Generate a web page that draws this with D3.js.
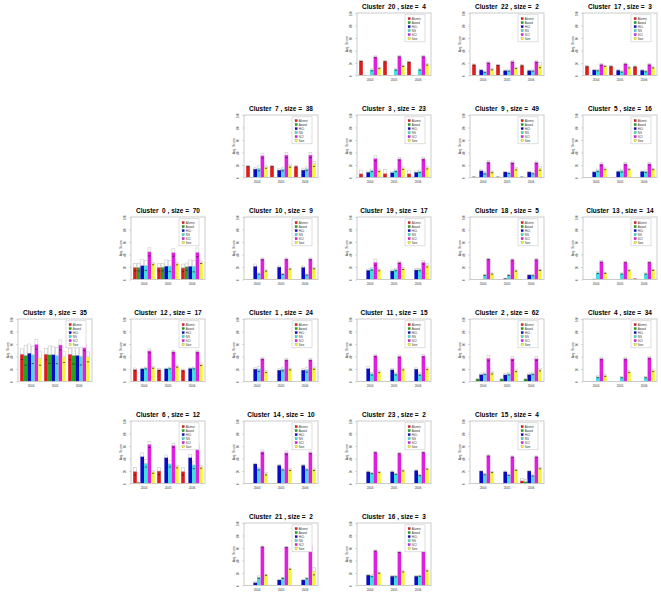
<!DOCTYPE html>
<html><head><meta charset="utf-8">
<script src="https://cdn.jsdelivr.net/npm/d3@7"></script>
<style>body{margin:0;background:#fff}svg{display:block}</style>
</head><body>
<svg id="chart" width="661" height="596"></svg>
<script>
const years = ["2004","2005","2006"];
const metrics = ["Alumni","Award","HiCi","NS","SCI","Size"];
const metricColors = ["#dd1c1c","#22a322","#0a0ac8","#44dede","#e01ee0","#f5f53a"];
const yTicks = [0,20,40,60,80,100];
const layoutRows = [
  [null,null,null,20,22,17],
  [null,null,7,3,9,5],
  [null,0,10,19,18,13],
  [8,12,1,11,2,4],
  [null,6,14,23,15,null],
  [null,null,21,16,null,null]
];
const clusterSizes = [70,24,62,23,34,16,12,38,35,49,9,15,17,14,10,4,3,3,5,17,4,2,2,2];

// mean scores: [year][metric]
const c0 = [[19.6,19.6,22.5,22.5,44.3,25.6],[19.6,19.8,21.5,21.5,43.2,25.5],[18.6,20.5,21.3,21.3,43.6,27.6]];
const c1 = [[0,0,20,20,36.8,16.2],[0,0,18.4,20,35,20],[0,0,18.4,19,35,21.6]];
const c2 = [[0,3.8,11.4,13,37.3,14],[0,3.8,10.8,12.4,36.8,17.8],[0,3.8,11.4,13,36.8,19]];
const c3 = [[6,0,8.6,11.4,30.8,11.4],[6.5,0,8,11.4,29.7,15],[6,0,8.6,10,30,15.7]];
const c4 = [[0,0,0,7.6,36.8,9.7],[0,0,0,7,36.8,15.7],[0,0,0.8,7,38.4,17.3]];
const c5 = [[0.8,0,9,11.4,21.6,14],[0.8,0,9.7,10.8,22,13.5],[0.8,0,9.7,10,22,13.5]];
const c6 = [[19.5,1.6,43.2,32.4,62.7,18.4],[20,0,41.6,31.4,61,27],[19.5,0,41.6,29.7,61,26.5]];
const c7 = [[18.5,0,13.6,14.7,35,16.8],[18.5,0,12,13.6,36,18.5],[18,0,12,14,36,21.7]];
const c8 = [[43.8,42,45.4,42.7,59.5,37.3],[43.8,43,43,41.6,58.4,39.5],[43.8,42,42,40.5,58.4,39.5]];
const c9 = [[0.8,0.8,10.8,7.6,24.9,9],[0.8,0,9,7.6,24.3,14],[0.8,0,9,7,24.3,14.6]];
const c10 = [[0,0,21.3,9.6,33,14.4],[0,0,20,9,33,17.5],[0,0,19.7,8,33,18]];
const c11 = [[0,0,21,12.4,41.6,16.2],[0,0,19,12.4,40.5,20],[0,0,20,12,41,21]];
const c12 = [[19.5,0,20.5,21.6,49,22.7],[19,0,20.5,21.6,47.6,24.3],[18.4,0,21,21.6,47.6,27.6]];
const c13 = [[0,0.5,1,11,29,10.7],[0,0,0,9.6,28,15],[1.6,0,0,9.6,28,15.5]];
const c14 = [[0,0,31.4,23.8,50.8,15.7],[0,0,29.2,22.7,49.2,22.2],[0,0,29.2,22.7,49.7,22.7]];
const c15 = [[0,0,20,15,44.9,18.4],[0,0,19,14,43.2,22.2],[4.3,3.2,20,13,43.2,24.9]];
const c16 = [[0,0,16.7,15.6,56,20.4],[0,0,15,15,53.8,22.6],[0,0,15,15.6,55,24.2]];
const c17 = [[15,0,9,8.5,18,15.5],[15,0,8.5,6.5,19,13],[14.5,0,8.5,7,18,13]];
const c18 = [[0,0,0,7.4,33,9.6],[0,0,1.6,7.4,32,14.4],[0,0,7.4,7,32.4,15.4]];
const c19 = [[0,0,15,17,27.7,15.4],[0,0,13.8,16,27.7,17.5],[0,0,15.4,16,27.7,23]];
const c20 = [[23.5,0,0,9,30,12],[23,0,0,10,31,15.5],[22,0,0,10,31,18]];
const c21 = [[0,0,4.8,13.4,62.4,17.2],[0,0,9,12.4,61.8,27],[0,0,9,11.8,64,23]];
const c22 = [[17.6,0,9,6,21,10],[17,0,8,8,22.5,12],[16.5,0,8,8,22.5,16.5]];
const c23 = [[0,0,19,16.8,50.3,18.4],[0,0,19,15.7,48.6,21],[0,0,21,13.5,50.3,23.8]];

// error (sd) values: [year][metric]
const e0 = [[6,6,10,8,6.5,2],[6,6,10,9,6,2],[6,6,10,9,7,2]];
const e1 = [[0,0,2,4,2,2],[0,0,2,3,2,1.5],[0,0,2,4,2,2]];
const e2 = [[0,1,2,2,4,2],[0,1,2,2,3,2],[0,1,2,2,3,2]];
const e3 = [[6,0,2,2,4,2],[6,0,2,2,2,2],[6,0,2,2,2,2]];
const e4 = [[0,0,0,1.5,2,1.5],[0,0,0,1,2,1.5],[0,0,0,1,2,1.5]];
const e5 = [[0,0,1.5,2,2,1.5],[0,0,1,2,2,1],[0,0,1,2,2,1]];
const e6 = [[6,1,6,6,5,2],[6,0,4,5,3,2],[6,0,5,6,3,2]];
const e7 = [[1,0,2,4,4,2],[1,0,2,3,4,2],[1,0,2,3,4,4]];
const e8 = [[8.6,16,14.6,14,8,11.3],[9,14,13,13,8,9],[9,14,12,14,9,8]];
const e9 = [[0.5,0,2,2,2,1.5],[0.5,0,1,1,2,2],[0.5,0,1,1,2,3]];
const e10 = [[0,0,3.5,1,1.5,1],[0,0,2,1,1.5,1],[0,0,2,1,1.5,1]];
const e11 = [[0,0,3,2,2,2],[0,0,2,2,2,1.5],[0,0,2,2,2,2]];
const e12 = [[2,0,1,1.5,3,1.5],[1.5,0,1,1.5,2,1.5],[1.5,0,1,1.5,2,2]];
const e13 = [[0,0,0,1.5,1.5,1],[0,0,0,1,1,1],[0,0,0,1,1,1]];
const e14 = [[0,0,1,2,3,2],[0,0,1,1,3,1.5],[0,0,1,1,2,2]];
const e15 = [[0,0,1,1,1,1],[0,0,1,1,1,1],[4,3,1,1,1,1.5]];
const e16 = [[0,0,1,1.5,1,1],[0,0,1,1,1,1],[0,0,1,1,1,1]];
const e17 = [[1,0,1,1,1.5,1],[1,0,1,1,1,1],[1,0,1,1,1.5,1]];
const e18 = [[0,0,0,1,1,1],[0,0,0.5,1,1,1],[0,0,1,1,1,1]];
const e19 = [[0,0,2,2,5,1.5],[0,0,2,2,2,1.5],[0,0,2,2,3,3]];
const e20 = [[1,0,0,1.5,1.5,1],[1,0,0,1.5,1.5,1],[1,0,0,1.5,1.5,1.5]];
const e21 = [[0,0,2,2,1,1],[0,0,1,1,1,1],[0,0,1,1,1,6]];
const e22 = [[1,0,1,1,1.5,1],[1,0,1,1,1.5,1],[1,0,1,1,1.5,4]];
const e23 = [[0,0,1,1,1,1],[0,0,1,1,1,1],[0,0,1,1,1,1]];

const clusterValues = [c0,c1,c2,c3,c4,c5,c6,c7,c8,c9,c10,c11,c12,c13,c14,c15,c16,c17,c18,c19,c20,c21,c22,c23];
const clusterErrors = [e0,e1,e2,e3,e4,e5,e6,e7,e8,e9,e10,e11,e12,e13,e14,e15,e16,e17,e18,e19,e20,e21,e22,e23];

const svg = d3.select("#chart");
const FONT = "'Liberation Sans', Arial, Helvetica, sans-serif";
const boxW = 74, boxH = 62.5;
const colPitch = 113, rowPitch = 102, left0 = 18, top0 = 13;

const y = d3.scaleLinear().domain([0,100]).range([boxH,0]);
const x0 = d3.scaleBand().domain(years).range([1, boxW-1]).paddingInner(0.1).paddingOuter(0.05);
const x1 = d3.scaleBand().domain(metrics).range([0, x0.bandwidth()]);
const color = d3.scaleOrdinal().domain(metrics).range(metricColors);

layoutRows.forEach((row, r) => row.forEach((id, c) => {
  if (id === null) return;
  const g = svg.append("g").attr("transform", `translate(${left0 + colPitch*c},${top0 + rowPitch*r})`);
  const vals = clusterValues[id], errs = clusterErrors[id];

  // title
  g.append("text").attr("x", boxW/2).attr("y", -4.3)
    .attr("text-anchor","middle").style("white-space","pre")
    .attr("font-family", FONT).attr("font-weight","bold").attr("font-size", 6.5)
    .text(`Cluster  ${id} , size =  ${clusterSizes[id]}`);

  // y axis
  const yAxis = d3.axisLeft(y).tickValues(yTicks).tickSize(1.6);
  const ya = g.append("g").call(yAxis);
  ya.select(".domain").remove();
  ya.selectAll(".tick line").attr("stroke","#999").attr("stroke-width",0.5);
  ya.selectAll(".tick text").attr("font-size",3).attr("font-family",FONT).attr("fill","#333")
    .attr("text-anchor","middle").attr("transform","rotate(-90)")
    .attr("x", 0).attr("y", -4.6).attr("dy","0");
  g.append("text").attr("transform",`translate(-8.8,${boxH/2}) rotate(-90)`)
    .attr("text-anchor","middle").attr("font-family",FONT).attr("font-size",3.3).attr("fill","#333")
    .text("Avg. Score");

  // bars
  const groups = g.selectAll("g.yr").data(years).join("g").attr("class","yr")
    .attr("transform", d => `translate(${x0(d)},0)`);
  groups.each(function(yr, yi) {
    const gg = d3.select(this);
    const rows = metrics.map((m, mi) => ({m, v: vals[yi][mi], e: errs[yi][mi]}));
    gg.selectAll("rect.bar").data(rows).join("rect").attr("class","bar")
      .attr("x", d => x1(d.m)).attr("width", x1.bandwidth())
      .attr("y", d => y(d.v)).attr("height", d => boxH - y(d.v))
      .attr("fill", d => color(d.m));
    const bw = x1.bandwidth();
    const withErr = rows.filter(d => d.e > 0 && d.v > 0);
    gg.selectAll("rect.err").data(withErr).join("rect").attr("class","err")
      .attr("x", d => x1(d.m) + bw*0.1).attr("width", bw*0.8)
      .attr("y", d => y(d.v + d.e)).attr("height", d => y(d.v) - y(d.v + d.e))
      .attr("fill","none").attr("stroke","#c8c8c8").attr("stroke-width",0.6);
    gg.selectAll("line.cap").data(withErr).join("line").attr("class","cap")
      .attr("x1", d => x1(d.m) + bw*0.2).attr("x2", d => x1(d.m) + bw*0.8)
      .attr("y1", d => y(Math.max(d.v - d.e, 0))).attr("y2", d => y(Math.max(d.v - d.e, 0)))
      .attr("stroke","#222").attr("stroke-width",0.7);
  });

  // x labels
  const xAxis = d3.axisBottom(x0).tickSize(0).tickPadding(3.6);
  const xa = g.append("g").attr("transform",`translate(0,${boxH})`).call(xAxis);
  xa.select(".domain").remove();
  xa.selectAll(".tick text").attr("font-size",3).attr("font-family",FONT).attr("fill","#333");

  // box
  g.append("rect").attr("x",0).attr("y",0).attr("width",boxW).attr("height",boxH)
    .attr("fill","none").attr("stroke","#c6c6c6").attr("stroke-width",0.9);

  // legend
  const lg = g.append("g").attr("transform",`translate(${boxW-26},1.8)`);
  lg.append("rect").attr("width",20).attr("height",27).attr("fill","#fff")
    .attr("stroke","#c8c8c8").attr("stroke-width",0.6);
  metrics.forEach((m, i) => {
    lg.append("rect").attr("x",3).attr("y",2.6 + i*4).attr("width",2.4).attr("height",2.4)
      .attr("fill", color(m)).attr("stroke","#555").attr("stroke-width",0.2);
    lg.append("text").attr("x",6.8).attr("y",4.8 + i*4)
      .attr("font-family",FONT).attr("font-size",2.9).attr("fill","#333").text(m);
  });
}));
</script>
</body></html>
